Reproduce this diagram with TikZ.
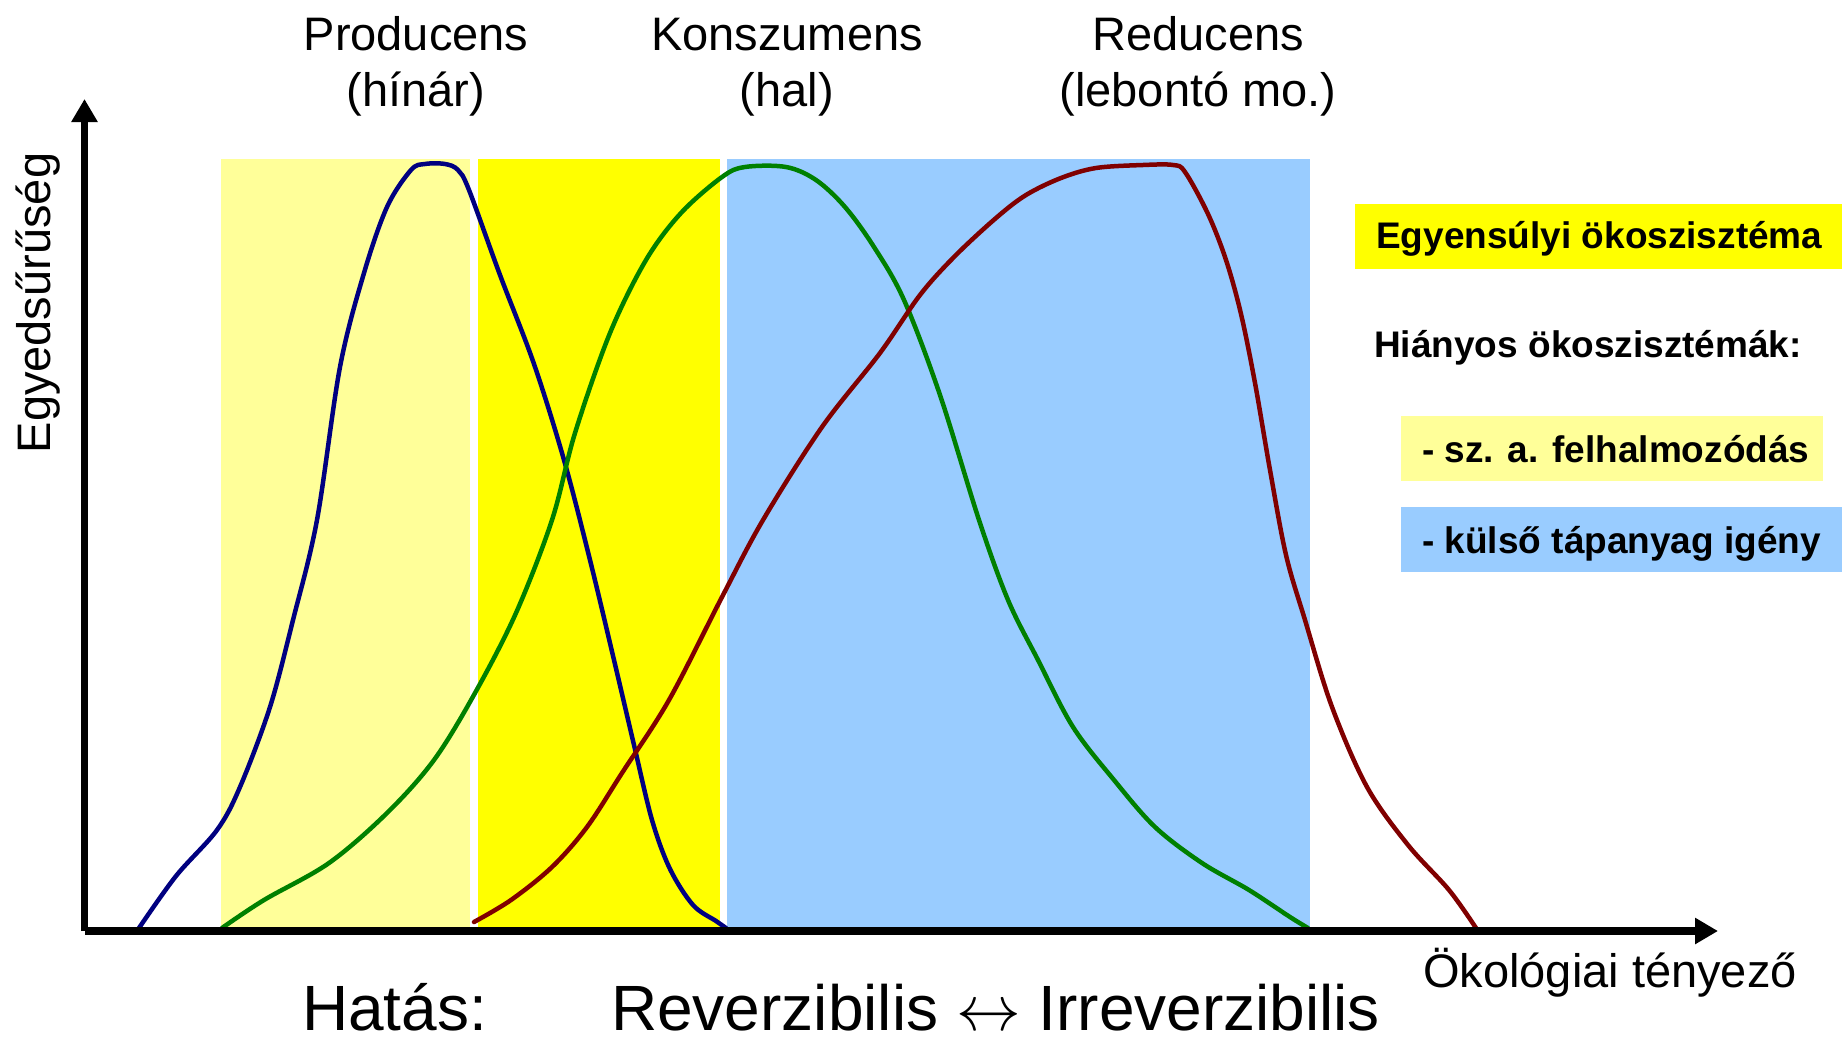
\documentclass[tikz,border=0pt]{standalone}
\usepackage{fontspec}
\usepackage{graphicx}
\setmainfont{Liberation Sans}
\usetikzlibrary{arrows.meta}

\definecolor{paleyellow}{HTML}{FFFF99}
\definecolor{brightyellow}{HTML}{FFFF00}
\definecolor{skyblue}{HTML}{99CCFF}
\definecolor{prodblue}{HTML}{000080}
\definecolor{konsgreen}{HTML}{008000}
\definecolor{redred}{HTML}{800000}

% a thin double-headed arrow sized to the 64pt text line
\newcommand{\bigleftright}{\scalebox{2.6}{\fontsize{24.88}{30}\selectfont$\leftrightarrow$}}

\tikzset{
  axisline/.style={line width=7.5pt, -{Triangle[length=23pt,width=25pt]}},
  curveline/.style={line width=4.5pt, line join=round, line cap=round},
  titletext/.style={anchor=base, inner sep=0pt, font=\fontsize{47}{54}\selectfont},
  legendtext/.style={anchor=base west, inner sep=0pt, font=\fontsize{37}{42}\selectfont\bfseries},
  bigtext/.style={anchor=base west, inner sep=0pt, text depth=0pt, font=\fontsize{64}{70}\selectfont},
}

\begin{document}
\begin{tikzpicture}[x=1pt, y=-1pt]
\useasboundingbox[fill=white] (0,0) rectangle (1842,1039);

% tolerance bands
\fill[paleyellow]   (221,159) rectangle (470,930);
\fill[brightyellow] (478,159) rectangle (720,930);
\fill[skyblue]      (727,159) rectangle (1310,930);

% legend boxes
\fill[brightyellow] (1355,204) rectangle (1842,269);
\fill[paleyellow]   (1401,416) rectangle (1823,481);
\fill[skyblue]      (1401,507) rectangle (1842,572);

% population density curves
\draw[curveline, prodblue] plot[smooth, tension=0.55] coordinates {
  (139,928) (176,876) (217,830) (240,787) (270,707) (293,620) (317,520)
  (340,367) (364,273) (387,207) (411,170) (425,164) (445,164) (458,170)
  (469,190) (500,275) (534,364) (564,460) (590,560) (614,660) (634,745)
  (652,820) (670,869) (693,905) (716,921) (726,928)};

\draw[curveline, konsgreen] plot[smooth, tension=0.55] coordinates {
  (222,928) (264,900) (329,863) (387,813) (434,760) (475,693) (516,613)
  (552,520) (575,433) (610,333) (646,260) (681,213) (722,177) (745,167)
  (786,167) (816,180) (845,207) (874,247) (904,300) (940,395) (979,520)
  (1008,600) (1038,660) (1073,727) (1114,780) (1155,827) (1202,863)
  (1249,890) (1290,917) (1308,928)};

\draw[curveline, redred] plot[smooth, tension=0.55] coordinates {
  (474,922) (511,900) (552,867) (587,827) (622,773) (669,700) (722,597)
  (763,520) (822,427) (880,353) (920,295) (955,256) (996,218) (1026,195)
  (1061,178) (1096,168) (1143,165) (1173,165) (1185,172) (1208,214)
  (1226,260) (1241,314) (1255,383) (1270,470) (1286,555) (1305,620)
  (1332,707) (1367,787) (1408,845) (1449,890) (1476,928)};

% axes
\coordinate (origin) at (84.5,931);
\coordinate (ytip) at (84.5,99);
\coordinate (xtip) at (1718,931);
\draw[axisline] (origin) -- (ytip);
\draw[axisline] (origin) -- (xtip);

% axis labels
\node[titletext, rotate=90] (ylabel) at (50,303) {Egyedsűrűség};
\node[anchor=base west, inner sep=0pt, font=\fontsize{47}{54}\selectfont] (xlabel) at (1423,987) {Ökológiai tényező};

% group titles
\node[titletext] (prod1) at (416,50)  {Producens};
\node[titletext] (prod2) at (416,106) {(hínár)};
\node[titletext] (kons1) at (787,50)  {Konszumens};
\node[titletext] (kons2) at (787,106) {(hal)};
\node[titletext] (red1)  at (1198,50)  {Reducens};
\node[titletext] (red2)  at (1198,106) {(lebontó mo.)};

% legend
\node[legendtext] (leg1) at (1376,248) {Egyensúlyi ökoszisztéma};
\node[legendtext] (leg2) at (1374,357) {Hiányos ökoszisztémák:};
\node[legendtext] (leg3) at (1422,462) {- sz. a. felhalmozódás};
\node[legendtext] (leg4) at (1422,553) {- külső tápanyag igény};

% effect line
\node[bigtext] (hatas) at (302,1030) {Hatás:};
\node[bigtext] (revir) at (611,1030) {Reverzibilis \bigleftright{} Irreverzibilis};
\end{tikzpicture}
\end{document}
